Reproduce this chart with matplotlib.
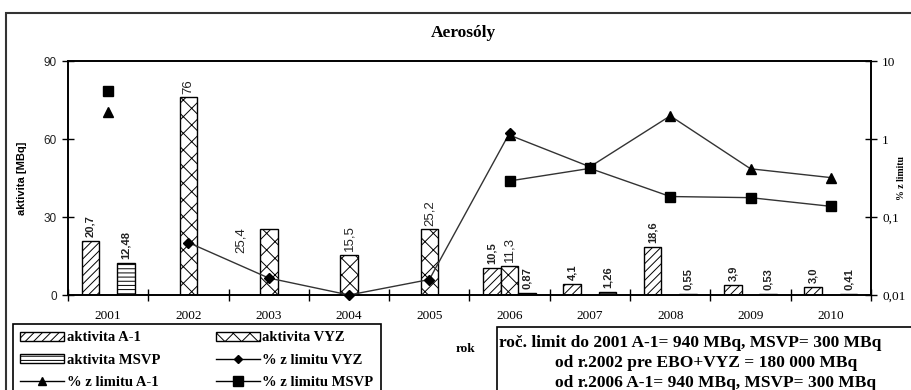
#!/usr/bin/env python3
import numpy as np
import matplotlib
matplotlib.use("Agg")
import matplotlib.pyplot as plt
from matplotlib.patches import Patch, Rectangle
from matplotlib.lines import Line2D

years = ['2001', '2002', '2003', '2004', '2005', '2006', '2007', '2008', '2009', '2010']

# activity [MBq], nan = no bar
akt_a1 = [20.7, np.nan, np.nan, np.nan, np.nan, 10.5, 4.1, 18.6, 3.9, 3.0]
akt_vyz = [np.nan, 76, 25.4, 15.5, 25.2, 11.3, np.nan, np.nan, np.nan, np.nan]
akt_msvp = [12.48, np.nan, np.nan, np.nan, np.nan, 0.87, 1.26, 0.55, 0.53, 0.41]

lab_a1 = ['20,7', '', '', '', '', '10,5', '4,1', '18,6', '3,9', '3,0']
lab_vyz = ['', '76', '25,4', '15,5', '25,2', '11,3', '', '', '', '']
lab_msvp = ['12,48', '', '', '', '', '0,87', '1,26', '0,55', '0,53', '0,41']

# % of limit (right log axis)
pct_vyz = [np.nan, 0.047, 0.0165, 0.01, 0.0158, 1.2, np.nan, np.nan, np.nan, np.nan]
pct_a1 = [2.2, np.nan, np.nan, np.nan, np.nan, 1.12, 0.44, 1.98, 0.415, 0.32]
pct_msvp = [4.16, np.nan, np.nan, np.nan, np.nan, 0.29, 0.42, 0.183, 0.177, 0.137]

limit_text = ["roč. limit do 2001 A-1= 940 MBq, MSVP= 300 MBq",
              "od r.2002 pre EBO+VYZ = 180 000 MBq",
              "od r.2006 A-1= 940 MBq, MSVP= 300 MBq"]

SERIF = ['Liberation Serif', 'DejaVu Serif']
SANS = ['Liberation Sans', 'DejaVu Sans']
plt.rcParams['hatch.linewidth'] = 0.7

fig = plt.figure(figsize=(9.12, 3.9), dpi=100)
ax = fig.add_axes([68/912, 1-295/390, (871-68)/912, (295-61)/390])
ax2 = ax.twinx()

x = np.arange(len(years))
w = 0.22
bar_kw = dict(width=w, color='white', edgecolor='black', linewidth=1.0)
ax.bar(x - w, akt_a1, hatch='////', **bar_kw)
ax.bar(x, akt_vyz, hatch='xx', **bar_kw)
ax.bar(x + w, akt_msvp, hatch='----', **bar_kw)

# value labels
small = dict(rotation=90, ha='center', va='bottom', fontsize=8, fontweight='bold',
             family=SANS, color='#222')
for i in range(len(years)):
    if lab_a1[i]:
        ax.text(x[i] - w, akt_a1[i] + 1.5, lab_a1[i], **small)
    if lab_msvp[i]:
        ax.text(x[i] + w, akt_msvp[i] + 1.5, lab_msvp[i], **small)
    if lab_vyz[i]:
        if years[i] == '2003':
            # label sits off to the left in the original
            ax.text(x[i] - 0.35, 21, lab_vyz[i], rotation=90, ha='center', va='center',
                    fontsize=9.5, family=SANS, color='#222')
        else:
            ax.text(x[i], akt_vyz[i] + 1.5, lab_vyz[i], rotation=90, ha='center', va='bottom',
                    fontsize=9.5, family=SANS, color='#222')

ax.set_xlim(-0.5, len(years) - 0.5)
ax.set_ylim(0, 90)
ax.set_yticks([0, 30, 60, 90])
ax.set_xticks(np.arange(-0.5, len(years), 1.0))
ax.set_xticklabels([])
ax.set_xticks(x, minor=True)
ax.set_xticklabels(years, minor=True, fontsize=9.5, family=SERIF)
ax.tick_params(axis='x', which='major', direction='inout', length=9, width=1)
ax.tick_params(axis='x', which='minor', length=0, pad=11)
ax.tick_params(axis='y', direction='inout', length=9, width=1, labelsize=8.5)
for t in ax.get_yticklabels():
    t.set_family(SANS)
    t.set_color('#222')
ax.set_ylabel('aktivita [MBq]', fontsize=8, fontweight='bold', family=SANS, labelpad=12)

ax2.set_yscale('log')
ax2.set_ylim(0.01, 10)
ax2.set_yticks([0.01, 0.1, 1, 10])
ax2.set_yticklabels(['0,01', '0,1', '1', '10'], fontsize=9.5, family=SERIF)
ax2.yaxis.set_minor_locator(matplotlib.ticker.NullLocator())
ax2.tick_params(axis='y', direction='inout', length=9, width=1)
ax2.set_ylabel('% z limitu', fontsize=7, fontweight='bold', family=SERIF, rotation=90)
ax2.yaxis.label.set_ha('center')
ax2.yaxis.label.set_va('center')
ax2.yaxis.set_label_coords((902-68)/(871-68), 0.5)

ln_kw = dict(color='#333333', linewidth=1.0, clip_on=False, zorder=3)
ax2.plot(x, pct_vyz, marker='D', markersize=5, markerfacecolor='black', markeredgecolor='black', **ln_kw)
ax2.plot(x, pct_a1, marker='^', markersize=7, markerfacecolor='black', markeredgecolor='black', **ln_kw)
ax2.plot(x, pct_msvp, marker='s', markersize=7.5, markerfacecolor='black', markeredgecolor='black', **ln_kw)

for a in (ax, ax2):
    for s in a.spines.values():
        s.set_linewidth(1.2)

ax.set_xlabel('rok', fontsize=9.5, fontweight='bold', family=SERIF)
ax.xaxis.set_label_coords((466-68)/(871-68), -(343-295)/(295-61))

fig.text(463/912, 1-33/390, 'Aerosóly', ha='center', va='center', fontsize=12.5,
         fontweight='bold', family=SERIF)

# legend
handles = [
    Patch(facecolor='white', edgecolor='black', hatch='////', label='aktivita A-1'),
    Patch(facecolor='white', edgecolor='black', hatch='----', label='aktivita MSVP'),
    Line2D([], [], color='black', lw=1, marker='^', markersize=6, label='% z limitu A-1'),
    Patch(facecolor='white', edgecolor='black', hatch='xx', label='aktivita VYZ'),
    Line2D([], [], color='black', lw=1, marker='D', markersize=4, label='% z limitu VYZ'),
    Line2D([], [], color='black', lw=1, marker='s', markersize=6.5, label='% z limitu MSVP'),
]
leg = fig.legend(handles=handles, ncol=2, loc='upper left', bbox_to_anchor=(13/912, 1-324/390),
                 frameon=True, fancybox=False, edgecolor='black', framealpha=1,
                 prop={'family': SERIF, 'weight': 'bold', 'size': 10.5},
                 handlelength=3.0, handleheight=0.6, handletextpad=0.2,
                 columnspacing=3.8, labelspacing=0.65, borderpad=0.5, borderaxespad=0)
leg.get_frame().set_linewidth(1.2)

# limit text box
fig.patches.append(Rectangle((497/912, -0.2), 0.6, 1-327/390+0.2, transform=fig.transFigure,
                             facecolor='none', edgecolor='black', linewidth=1.2))
fig.text(499/912, 1-343/390, limit_text[0], ha='left', va='center', fontsize=12.5,
         fontweight='bold', family=SERIF)
fig.text(555/912, 1-363/390, limit_text[1], ha='left', va='center', fontsize=12.5,
         fontweight='bold', family=SERIF)
fig.text(555/912, 1-383/390, limit_text[2], ha='left', va='center', fontsize=12.5,
         fontweight='bold', family=SERIF)

# outer frame
fig.patches.append(Rectangle((6/912, -0.2), 1.0, 1-13/390+0.2, transform=fig.transFigure,
                             facecolor='none', edgecolor='#333333', linewidth=1.5))

fig.savefig('out.png', dpi=100)
